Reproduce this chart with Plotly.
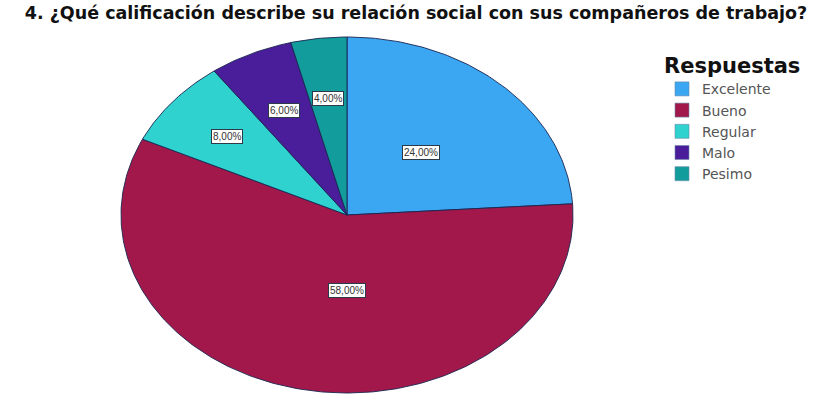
import numpy as np
import plotly.graph_objects as go

categories = ["Excelente", "Bueno", "Regular", "Malo", "Pesimo"]
values = [24.0, 58.0, 8.0, 6.0, 4.0]
labels = ["24,00%", "58,00%", "8,00%", "6,00%", "4,00%"]

colors = ["#3ba7f2", "#a3184b", "#2fd2cf", "#4a1e9a", "#129c9b"]
label_r = [0.48, 0.43, 0.69, 0.65, 0.66]
label_dx = [0.0, 0.08, 0.0, 0.0, 0.0]
edge = "#1a2550"

W, H = 832, 394
cx, cy, rx, ry = 347, 215, 226, 178

fig = go.Figure()
total = sum(values)
start = 0.0
for cat, v, col, lab, lr, ldx in zip(categories, values, colors, labels, label_r, label_dx):
    a0 = start / total * 2 * np.pi
    a1 = (start + v) / total * 2 * np.pi
    t = np.linspace(a0, a1, max(8, int(v * 4)))
    xs = np.concatenate([[0], np.sin(t), [0]])
    ys = np.concatenate([[0], np.cos(t), [0]])
    fig.add_trace(go.Scatter(x=xs, y=ys, mode="lines", fill="toself",
                             fillcolor=col, line=dict(color=edge, width=0.9),
                             showlegend=False, hoverinfo="skip"))
    am = (a0 + a1) / 2
    fig.add_annotation(x=lr * np.sin(am) + ldx, y=lr * np.cos(am), text=lab,
                       showarrow=False, bgcolor="white", bordercolor="#2b3a4a",
                       borderwidth=1, borderpad=1,
                       font=dict(family="Liberation Sans", size=10, color="#333"))
    start += v

for cat, col in zip(categories, colors):
    fig.add_trace(go.Scatter(x=[None], y=[None], mode="markers", name=cat,
                             marker=dict(symbol="square", size=14, color=col,
                                         line=dict(color="#6a8aa8", width=0.6))))

fig.update_xaxes(range=[-cx / rx, (W - cx) / rx], visible=False, domain=[0, 1])
fig.update_yaxes(range=[-(H - cy) / ry, cy / ry], visible=False, domain=[0, 1])

fig.update_layout(
    width=W, height=H,
    margin=dict(l=0, r=0, t=0, b=0),
    paper_bgcolor="white", plot_bgcolor="white",
    title=dict(text="<b>4. ¿Qué calificación describe su relación social con sus compañeros de trabajo?</b>",
               x=416 / W, xanchor="center", y=1 - 13 / H, yanchor="middle",
               font=dict(family="DejaVu Sans", size=17.5, color="#111")),
    legend=dict(x=(662) / W, xanchor="left", y=1 - 46 / H, yanchor="top",
                title=dict(text="<b>Respuestas</b>", side="top",
                           font=dict(family="DejaVu Sans", size=21, color="#111")),
                font=dict(family="DejaVu Sans", size=14, color="#555"),
                itemwidth=30, tracegroupgap=0, bgcolor="rgba(0,0,0,0)"),
)

fig.write_html("out.html")
